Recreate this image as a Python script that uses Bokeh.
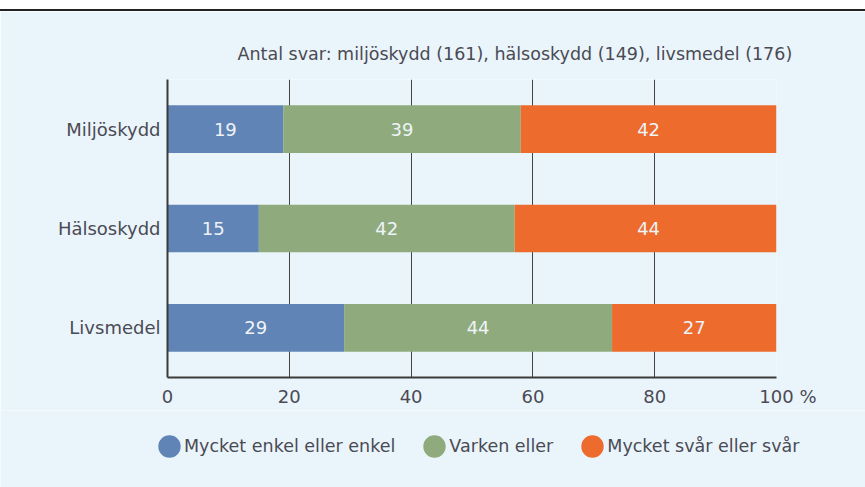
from bokeh.plotting import figure
from bokeh.models import (FactorRange, Range1d, Legend, LegendItem, Div,
                          ColumnDataSource, LabelSet, FixedTicker)
from bokeh.layouts import column
from bokeh.core.properties import value
from bokeh.embed import file_html
from bokeh.resources import INLINE

# ---- data ----
categories = ["Miljöskydd", "Hälsoskydd", "Livsmedel"]
series_names = ["Mycket enkel eller enkel", "Varken eller", "Mycket svår eller svår"]
easy = [19, 15, 29]
neither = [39, 42, 44]
hard = [42, 44, 27]
x_ticks = [0, 20, 40, 60, 80, 100]
x_tick_labels = ["0", "20", "40", "60", "80", "\u00a0\u00a0\u00a0\u00a0100 %"]
title_text = "Antal svar: miljöskydd (161), hälsoskydd (149), livsmedel (176)"

colors = ["#5f84b5", "#8fab7d", "#ec6b2d"]
bg = "#eaf5fb"
txt = "#4a4a54"
font = "DejaVu Sans"
fsize = "18px"
fsize_small = "17.5px"

keys = ["easy", "neither", "hard"]
source = ColumnDataSource(dict(cat=categories, easy=easy, neither=neither, hard=hard))

# ---- main chart ----
p = figure(width=865, height=399, output_backend="svg", toolbar_location=None,
           y_range=FactorRange(factors=list(reversed(categories))),
           x_range=Range1d(0, 100),
           min_border_left=167, min_border_right=89,
           min_border_top=68, min_border_bottom=33)
p.frame_align = False
p.background_fill_color = bg
p.border_fill_color = bg
p.outline_line_color = None

p.hbar_stack(keys, y="cat", height=0.48, color=colors, line_color=None, source=source)

# value labels in segments
lx, ly, lt = [], [], []
for i, c in enumerate(categories):
    start = 0
    for arr in (easy, neither, hard):
        v = arr[i]
        lx.append(start + v / 2)
        ly.append(c)
        lt.append(str(v))
        start += v
lsrc = ColumnDataSource(dict(x=lx, y=ly, t=lt))
p.add_layout(LabelSet(x="x", y="y", text="t", source=lsrc, text_align="center",
                      text_baseline="middle", text_color="#eef3f8",
                      text_font=value(font), text_font_size=value(fsize)))

# axes
p.xaxis.ticker = FixedTicker(ticks=x_ticks)
p.xaxis.major_label_overrides = {t: l for t, l in zip(x_ticks, x_tick_labels)}
p.xaxis.major_tick_line_color = None
p.xaxis.major_tick_out = 0
p.xaxis.minor_tick_line_color = None
p.xaxis.axis_line_color = "#3a3a3a"
p.xaxis.axis_line_width = 2
p.xaxis.major_label_text_font = font
p.xaxis.major_label_text_font_size = fsize
p.xaxis.major_label_text_color = txt
p.xaxis.major_label_standoff = 8

p.yaxis.major_tick_line_color = None
p.yaxis.major_tick_out = 0
p.yaxis.minor_tick_line_color = None
p.yaxis.axis_line_color = "#3a3a3a"
p.yaxis.axis_line_width = 2
p.yaxis.major_label_text_font = font
p.yaxis.major_label_text_font_size = fsize
p.yaxis.major_label_text_color = txt
p.yaxis.major_label_standoff = 7

p.xgrid.ticker = FixedTicker(ticks=x_ticks)
p.xgrid.grid_line_color = "#444444"
p.xgrid.grid_line_width = 1
p.ygrid.grid_line_color = None

# title
p.title.text = title_text
p.title.align = "left"
p.title.offset = 70
p.title.text_font = font
p.title.text_font_size = fsize_small
p.title.text_font_style = "normal"
p.title.text_color = txt
p.title.standoff = 31

# ---- legend strip ----
lg = figure(width=865, height=77, output_backend="svg", toolbar_location=None,
            x_range=Range1d(0, 1), y_range=Range1d(0, 1),
            x_axis_type=None, y_axis_type=None,
            min_border_left=0, min_border_right=0, min_border_top=0, min_border_bottom=0)
lg.frame_align = False
lg.background_fill_color = bg
lg.border_fill_color = bg
lg.outline_line_color = None
lg.xgrid.visible = False
lg.ygrid.visible = False

nan = float("nan")
dummies = [lg.ellipse(x=[nan], y=[nan], width=22, height=22,
                      width_units="screen", height_units="screen",
                      fill_color=c, line_color=None) for c in colors]
legend = Legend(items=[LegendItem(label=n, renderers=[r]) for n, r in zip(series_names, dummies)],
                orientation="horizontal", location=(155, 27),
                glyph_width=28, glyph_height=28, label_standoff=1, spacing=25,
                padding=0, margin=0, border_line_color=None, background_fill_alpha=0,
                label_text_font=font, label_text_font_size=fsize_small, label_text_color=txt)
lg.add_layout(legend)

top_line = Div(width=865, height=11, margin=0,
               styles={"background-color": "white", "border-bottom": "2px solid #222222",
                       "box-sizing": "border-box"})
layout = column(top_line, p, lg, spacing=0)

open("out.html", "w").write(file_html(layout, INLINE))
